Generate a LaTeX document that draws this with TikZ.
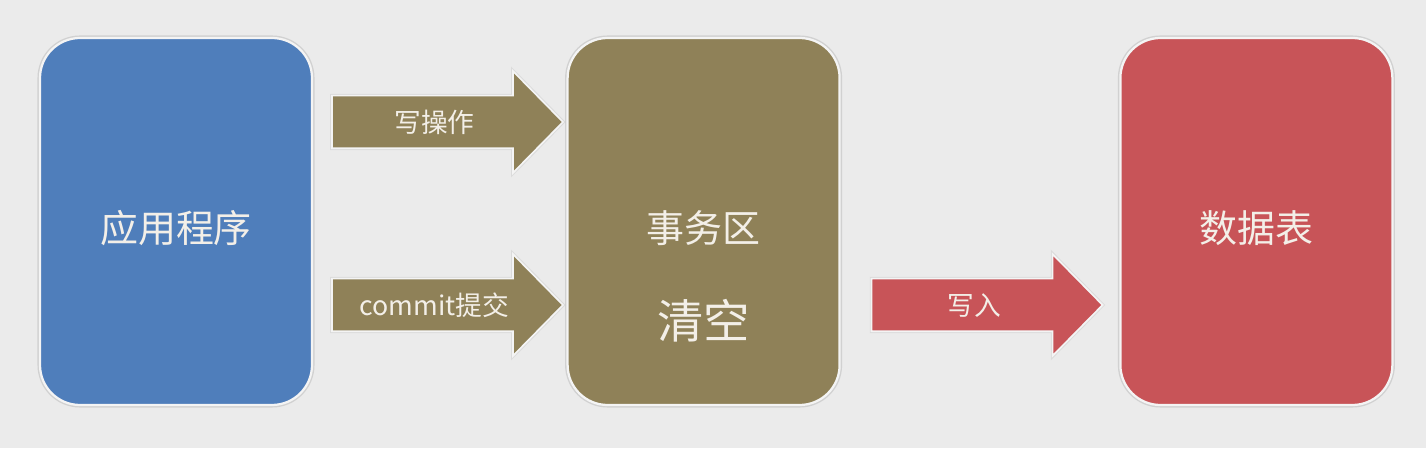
\documentclass[tikz,border=0pt]{standalone}
\usepackage{fontspec}
\setmainfont{Noto Sans CJK SC}
\usepackage{xcolor}
\usepackage{tikz}
\usetikzlibrary{positioning, shapes.arrows}

\definecolor{bgGray}{HTML}{EBEBEB}
\definecolor{appBlue}{HTML}{4F7EBB}
\definecolor{transOlive}{HTML}{8F8158}
\definecolor{tableRed}{HTML}{C85458}
\definecolor{labelWhite}{HTML}{F3EFE8}
\definecolor{rimWhite}{HTML}{F4F4F4}

\begin{document}
\begin{tikzpicture}[
			block/.style={rectangle, rounded corners=1cm, minimum width=6.8cm,
				minimum height=9.175cm, draw=rimWhite, line width=1.6pt,
				preaction={draw=black!30, line width=3.6pt, opacity=0.45}},
			blocktext/.style={text=labelWhite, font=\fontsize{27}{31}\selectfont},
			blockarrow/.style={single arrow, minimum height=5.775cm, minimum width=2.5cm,
				single arrow head extend=0.6125cm, single arrow tip angle=91,
				inner xsep=0pt, inner ysep=0pt, text height=0.89cm, text depth=0.385cm,
				draw=rimWhite, line width=1.2pt,
				preaction={draw=black!25, line width=2.6pt, opacity=0.35},
				text=labelWhite, font=\fontsize{19}{22}\selectfont}]
%			\draw[help lines] (0,0) grid (35.65,11.2);
			\fill[bgGray] (0,0) rectangle (35.65,11.2);
			\useasboundingbox (0,0) rectangle (35.65,11.2);

			\node (App) [block, fill=appBlue] at (4.4,5.6625) {};
			\node (Trans) [block, fill=transOlive] at (17.59,5.6625) {};
			\node (Table) [block, fill=tableRed] at (31.41,5.6625) {};

			% texts inside the boxes
			\node (AppName) [blocktext] at (4.4,5.5) {应用程序};
			\node (TransName) [blocktext] at (17.59,5.5) {事务区};
			\node (Clear) [blocktext, font=\fontsize{33}{38}\selectfont]
				at (17.59,3.18) {清空};
			\node (TableName) [blocktext] at (31.41,5.5) {数据表};

			% arrows
			\node (Write) [blockarrow, fill=transOlive, anchor=west,
				right=0.45cm of App.east, yshift=2.4875cm] {写操作};
			\node (Commit) [blockarrow, fill=transOlive, anchor=west,
				right=0.45cm of App.east, yshift=-2.0875cm] {commit提交};
			\node (Flush) [blockarrow, fill=tableRed, anchor=west,
				right=0.75cm of Trans.east, yshift=-2.0875cm] {写入};
		\end{tikzpicture}
\end{document}
